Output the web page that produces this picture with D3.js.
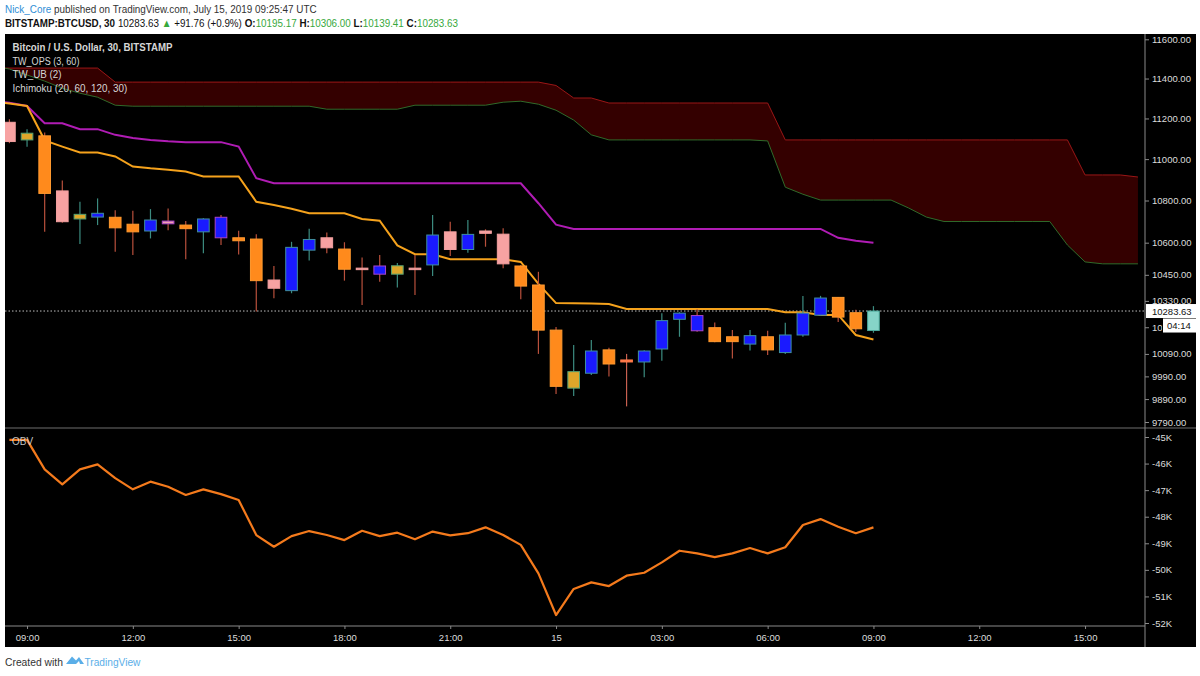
<!DOCTYPE html>
<html><head><meta charset="utf-8">
<script src="https://cdn.jsdelivr.net/npm/d3@7"></script>
<style>body{margin:0;background:#fff;}svg{display:block;}</style>
</head><body>
<svg id="chart" width="1200" height="676"></svg>
<script>
// ---------------- DATA ----------------
// bar index 0 = Jul 14 08:30, 30-minute bars
const timeTickIndex = [1, 7, 13, 19, 25, 31, 37, 43, 49, 55, 61];
const timeTickLabels = ["09:00", "12:00", "15:00", "18:00", "21:00", "15", "03:00", "06:00", "09:00", "12:00", "15:00"];

const opens  = [11181,11094,11114,10846,10712,10721,10720,10687,10655,10702,10683,10651,10720,10623,10617,10426,10377,10565,10623,10570,10481,10491,10453,10481,10496,10651,10568,10655,10640,10491,10403,10197,9938,10004,10108,10063,10054,10112,10246,10263,10208,10167,10134,10167,10096,10175,10265,10346,10276,10195.17];
const highs  = [11196,11146,11130,10896,10794,10810,10754,10751,10759,10762,10702,10715,10731,10656,10640,10491,10604,10666,10648,10602,10531,10542,10505,10542,10731,10699,10707,10663,10668,10496,10464,10211,10130,10152,10118,10090,10106,10274,10278,10292,10232,10197,10197,10194,10230,10352,10353,10348,10289,10306];
const lows   = [11078,11061,10651,10694,10594,10683,10558,10542,10620,10659,10522,10550,10589,10545,10282,10342,10365,10516,10550,10423,10311,10418,10392,10357,10445,10537,10553,10581,10481,10337,10090,9912,9904,9996,9989,9858,9986,10060,10167,10190,10142,10070,10105,10085,10090,10167,10263,10234,10188,10185];
const closes = [11086,11127,10834,10699,10734,10739,10670,10651,10707,10689,10666,10712,10623,10609,10423,10388,10578,10615,10576,10476,10476,10453,10492,10476,10636,10568,10639,10644,10501,10398,10197,9946,10011,10103,10045,10054,10103,10240,10274,10194,10145,10145,10172,10108,10175,10274,10343,10256,10203,10283.63];
const barStyles = ["pink","gold","orange","pink","gold","blue","orange","orange","blue","purplePink","orange","blue","purple","orange","orange","pink","blue","blue","pink","orange","pink","purple","gold","pink","blue","pink","blue","pink","pink","orange","orange","orange","gold","blue","orange","red","blue","blue","blue","purple","orange","orange","blue","orange","blue","blue","blue","orange","orange","teal"];

// indicator lines, index -1 .. 49
const lineStart = -1;
const twOps = [11287,11274,11262,11092,11061,11032,11032,11013,10964,10955,10948,10940,10916,10916,10916,10794,10778,10761,10739,10739,10739,10712,10704,10587,10546,10546,10522,10522,10522,10522,10510,10408,10320,10319,10318,10316,10293,10293,10293,10293,10293,10293,10293,10293,10293,10278,10278,10266,10266,10175,10155];
const twUb  = [11287,11278,11262,11176,11176,11147,11147,11119,11103,11094,11087,11083,11083,11083,11061,10907,10883,10883,10883,10883,10883,10883,10883,10883,10883,10883,10883,10883,10883,10883,10883,10787,10685,10665,10665,10665,10665,10665,10665,10665,10665,10665,10665,10665,10665,10665,10665,10665,10623,10609,10600];

// Ichimoku cloud (displaced), index -1 .. 64
const cloudStart = -1;
const senkouB = [11453,11453,11453,11453,11453,11453,11453,11382,11382,11382,11382,11382,11382,11382,11382,11382,11382,11382,11382,11382,11382,11382,11382,11382,11382,11382,11382,11382,11382,11382,11382,11382,11365,11302,11302,11277,11277,11277,11277,11277,11277,11277,11277,11277,11277,11094,11094,11094,11094,11094,11094,11094,11094,11094,11094,11094,11094,11094,11094,11094,11094,11094,10923,10923,10923,10913];
const senkouA = [11465,11448,11418,11387,11351,11326,11306,11266,11261,11261,11261,11261,11261,11261,11261,11261,11261,11261,11261,11246,11246,11246,11246,11246,11266,11266,11266,11266,11266,11281,11286,11271,11241,11192,11119,11094,11094,11094,11094,11094,11094,11094,11094,11094,11089,10864,10830,10802,10802,10802,10802,10802,10764,10721,10700,10700,10700,10700,10700,10700,10700,10589,10510,10501,10501,10501];

// On Balance Volume
const obv = [-45110,-45110,-46220,-46780,-46220,-46030,-46550,-46970,-46680,-46870,-47180,-46970,-47150,-47370,-48690,-49130,-48730,-48540,-48690,-48880,-48530,-48730,-48600,-48850,-48560,-48700,-48620,-48400,-48690,-49060,-50130,-51700,-50720,-50470,-50610,-50220,-50110,-49720,-49280,-49380,-49520,-49380,-49180,-49380,-49150,-48310,-48090,-48380,-48620,-48400];

const priceTicks = [11600,11400,11200,11000,10800,10600,10450,10330,10210,10090,9990,9890,9790];
const obvTicks = [-45000,-46000,-47000,-48000,-49000,-50000,-51000,-52000];
const lastPrice = 10283.63;
const countdown = "04:14";

// ---------------- STYLE ----------------
const styleMap = {
  blue:       {fill:"#1a1aff", stroke:"#3f8fa0", wick:"#3c8c80"},
  orange:     {fill:"#ff8a1c", stroke:"#ff9a30", wick:"#b9503c"},
  pink:       {fill:"#f7a2a2", stroke:"#f3a0a0", wick:"#b9503c"},
  gold:       {fill:"#dfa62a", stroke:"#55a070", wick:"#3c8c80"},
  purple:     {fill:"#1a1aff", stroke:"#a844c8", wick:"#b9503c"},
  purplePink: {fill:"#f2a0b4", stroke:"#a844c8", wick:"#b9503c"},
  red:        {fill:"#ff7a4a", stroke:"#ff7a4a", wick:"#c86050"},
  teal:       {fill:"#86d4c8", stroke:"#4aa89a", wick:"#3c8c80"}
};

const svg = d3.select("#chart");
const font = "'Liberation Sans', Arial, sans-serif";

// layout
const L = 5, R = 1145, RR = 1195, T = 34, SEP = 428, XAX = 626, B = 647;

const x = d3.scaleLinear().domain([-0.25, 64.4]).range([L, R]);
const y = d3.scaleLog().domain([9790, 11600]).range([422, 39.3]);
const yObv = d3.scaleLinear().domain([-52000, -45000]).range([623, 437]);
const bw = (x(1) - x(0)) * 0.66;

// a row of text segments, laid out naturally, then squeezed horizontally to a target width
function textRow(parent, segs, x0, y0, width, size, fillDefault) {
  const g = parent.append("g");
  let cx = 0;
  segs.forEach(s => {
    const t = g.append("text").attr("x", cx).attr("y", 0)
      .attr("font-family", font).attr("font-size", size)
      .attr("font-weight", s.bold ? "bold" : "normal")
      .attr("fill", s.color || fillDefault).text(s.t);
    cx += t.node().getComputedTextLength() + (s.gap ? size * 0.28 : 0);
  });
  const k = width / cx;
  g.attr("transform", `translate(${x0},${y0}) scale(${k},1)`);
  return g;
}

// header
const green = "#37a83c";
textRow(svg, [{t:"Nick_Core", color:"#2f8ed6", gap:true}, {t:"published on TradingView.com, July 15, 2019 09:25:47 UTC"}], 5, 13, 312, 11, "#333");
textRow(svg, [
  {t:"BITSTAMP:BTCUSD, 30", bold:true, gap:true}, {t:"10283.63", gap:true}, {t:"▲", color:green, gap:true},
  {t:"+91.76 (+0.9%)", gap:true}, {t:"O:", bold:true}, {t:"10195.17", color:green, gap:true},
  {t:"H:", bold:true}, {t:"10306.00", color:green, gap:true}, {t:"L:", bold:true}, {t:"10139.41", color:green, gap:true},
  {t:"C:", bold:true}, {t:"10283.63", color:green}], 5, 27, 453, 11, "#111");

// chart background
svg.append("rect").attr("x", L).attr("y", T).attr("width", RR - L + 1).attr("height", B - T).attr("fill", "#000");

const defs = svg.append("defs");
defs.append("clipPath").attr("id", "pclip").append("rect").attr("x", L).attr("y", T).attr("width", R - L).attr("height", SEP - T);
defs.append("clipPath").attr("id", "oclip").append("rect").attr("x", L).attr("y", SEP + 1).attr("width", R - L).attr("height", XAX - SEP - 1);
defs.append("clipPath").attr("id", "lblclip").append("rect").attr("x", R).attr("y", T).attr("width", 17).attr("height", 400);

const pane = svg.append("g").attr("clip-path", "url(#pclip)");

// Ichimoku cloud
const cloudIdx = senkouA.map((d, i) => i + cloudStart);
pane.append("path")
  .attr("d", d3.area().x((d) => x(d)).y0((d) => y(senkouA[d - cloudStart])).y1((d) => y(senkouB[d - cloudStart]))(cloudIdx))
  .attr("fill", "#340000");
pane.append("path")
  .attr("d", d3.line().x((d) => x(d)).y((d) => y(senkouB[d - cloudStart]))(cloudIdx))
  .attr("fill", "none").attr("stroke", "#9a1616").attr("stroke-width", 1);
pane.append("path")
  .attr("d", d3.line().x((d) => x(d)).y((d) => y(senkouA[d - cloudStart]))(cloudIdx))
  .attr("fill", "none").attr("stroke", "#2f6a2a").attr("stroke-width", 1);

// legend
const legend = svg.append("g");
textRow(legend, [{t:"Bitcoin / U.S. Dollar, 30, BITSTAMP", bold:true}], 12.5, 51, 160, 10.5, "#d6d6d6");
textRow(legend, [{t:"TW_OPS (3, 60)"}], 12.5, 64.5, 67, 10.5, "#d6d6d6");
textRow(legend, [{t:"TW_UB (2)"}], 12.5, 78, 49, 10.5, "#d6d6d6");
textRow(legend, [{t:"Ichimoku (20, 60, 120, 30)"}], 12.5, 91.5, 115, 10.5, "#d6d6d6");

// last price dotted line
pane.append("line").attr("x1", L).attr("x2", R).attr("y1", y(lastPrice)).attr("y2", y(lastPrice))
  .attr("stroke", "#bdbdbd").attr("stroke-width", 1).attr("stroke-dasharray", "1.5,2");

// indicator lines
const lineIdx = twOps.map((d, i) => i + lineStart);
pane.append("path")
  .attr("d", d3.line().x((d) => x(d)).y((d) => y(twUb[d - lineStart]))(lineIdx))
  .attr("fill", "none").attr("stroke", "#b01cb4").attr("stroke-width", 2);
pane.append("path")
  .attr("d", d3.line().x((d) => x(d)).y((d) => y(twOps[d - lineStart]))(lineIdx))
  .attr("fill", "none").attr("stroke", "#f5a21c").attr("stroke-width", 2);

// candles
const candles = pane.append("g").selectAll("g").data(opens.map((o, i) => i)).join("g");
candles.append("line")
  .attr("x1", (i) => x(i)).attr("x2", (i) => x(i))
  .attr("y1", (i) => y(highs[i])).attr("y2", (i) => y(lows[i]))
  .attr("stroke", (i) => styleMap[barStyles[i]].wick).attr("stroke-width", 1.2);
candles.append("rect")
  .attr("x", (i) => x(i) - bw / 2).attr("width", bw)
  .attr("y", (i) => y(Math.max(opens[i], closes[i])))
  .attr("height", (i) => Math.max(1.5, y(Math.min(opens[i], closes[i])) - y(Math.max(opens[i], closes[i]))))
  .attr("fill", (i) => styleMap[barStyles[i]].fill)
  .attr("stroke", (i) => styleMap[barStyles[i]].stroke).attr("stroke-width", 1);

// OBV pane
const opane = svg.append("g").attr("clip-path", "url(#oclip)");
opane.append("path")
  .attr("d", d3.line().x((d, i) => x(i)).y((d) => yObv(d))(obv))
  .attr("fill", "none").attr("stroke", "#f47a1c").attr("stroke-width", 2.2).attr("stroke-linejoin", "round");
svg.append("text").attr("x", 12).attr("y", 444.5).attr("font-family", font).attr("font-size", 10)
  .attr("fill", "#d8d8d8").attr("opacity", 0.9).text("OBV");

// separators
svg.append("line").attr("x1", L).attr("x2", RR + 1).attr("y1", SEP).attr("y2", SEP).attr("stroke", "#6e6e6e");

// price axis
const axisColor = "#8a8a8a";
const pAxis = svg.append("g").attr("transform", `translate(${R},0)`)
  .call(d3.axisRight(y).tickValues(priceTicks).tickFormat(d3.format(".2f")).tickSize(4).tickPadding(3));
const oAxis = svg.append("g").attr("transform", `translate(${R},0)`)
  .call(d3.axisRight(yObv).tickValues(obvTicks).tickFormat((d) => (d / 1000) + "K").tickSize(4).tickPadding(3));
const tAxis = svg.append("g").attr("transform", `translate(0,${XAX})`)
  .call(d3.axisBottom(x).tickValues(timeTickIndex).tickFormat((d, i) => timeTickLabels[i]).tickSize(3).tickPadding(5));
[pAxis, oAxis, tAxis].forEach(g => {
  g.select(".domain").remove();
  g.selectAll("line").attr("stroke", axisColor);
  g.selectAll("text").attr("fill", "#dcdcdc").attr("font-family", font).attr("font-size", 9.5);
});
// the tick label hidden behind the countdown box is only partly visible
pAxis.selectAll(".tick").filter((d) => d === 10210).select("text")
  .attr("clip-path", "url(#lblclip)");
pAxis.selectAll(".tick").filter((d) => d === 10210)
  .select("text").attr("clip-path", null);
pAxis.selectAll(".tick").filter((d) => d === 10210).each(function() {
  const tk = d3.select(this);
  const ty = tk.attr("transform");
  tk.select("text").remove();
  svg.append("g").attr("clip-path", "url(#lblclip)")
    .append("text").attr("transform", `translate(${R},0) ${ty}`).attr("x", 7).attr("dy", "0.32em")
    .attr("fill", "#dcdcdc").attr("font-family", font).attr("font-size", 9.5).text(d3.format(".2f")(10210));
});
svg.append("line").attr("x1", R).attr("x2", R).attr("y1", T).attr("y2", B).attr("stroke", axisColor);
svg.append("line").attr("x1", L).attr("x2", R).attr("y1", XAX).attr("y2", XAX).attr("stroke", axisColor);

// last price label + countdown
const ly = y(lastPrice);
svg.append("rect").attr("x", R + 1).attr("y", ly - 7).attr("width", 51).attr("height", 14).attr("fill", "#fff");
svg.append("text").attr("x", R + 7).attr("y", ly + 3.5).attr("font-family", font).attr("font-size", 9.5).attr("fill", "#111").text(d3.format(".2f")(lastPrice));
svg.append("rect").attr("x", 1163).attr("y", ly + 7.5).attr("width", 33).attr("height", 14).attr("fill", "#fff");
svg.append("text").attr("x", 1167).attr("y", ly + 18).attr("font-family", font).attr("font-size", 9.5).attr("fill", "#111").text(countdown);

// footer
textRow(svg, [{t:"Created with"}], 5, 666, 58, 11, "#333");
svg.append("path").attr("d", "M66,664 L72,656.5 L76,660.5 L79,657 L84,664 L80,664 L79,661 L76,664 Z").attr("fill", "#5aaee8");
textRow(svg, [{t:"TradingView"}], 84.5, 666, 56, 11, "#5aaee8");
</script>
</body></html>
